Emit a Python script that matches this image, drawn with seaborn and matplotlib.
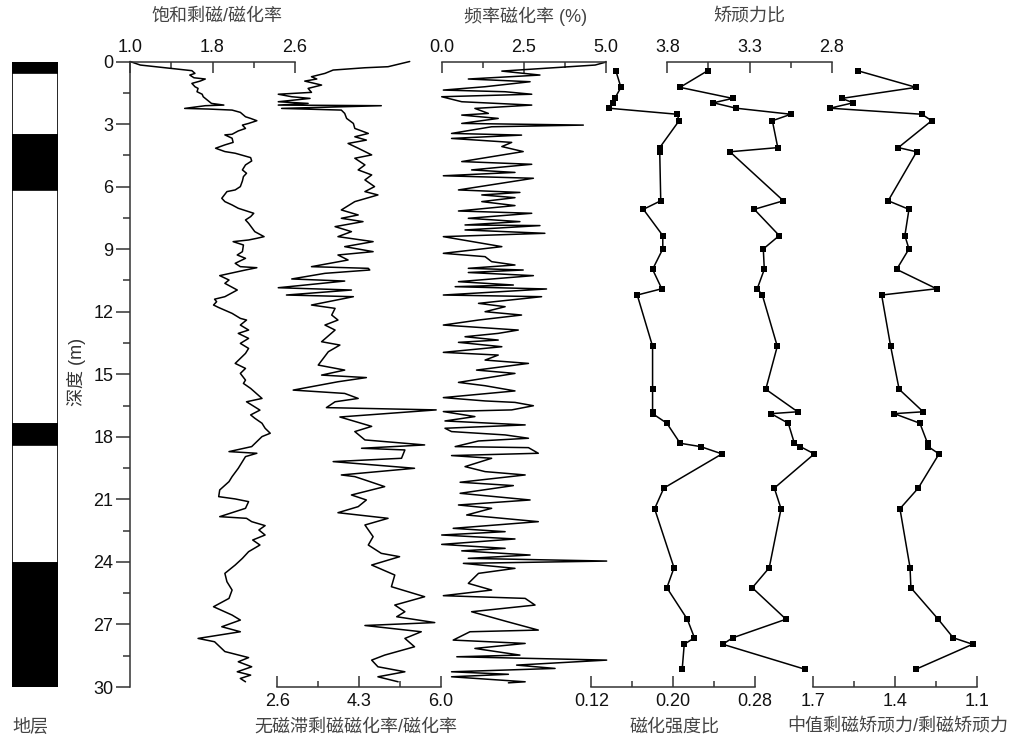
import matplotlib
matplotlib.use("Agg")
import matplotlib.pyplot as plt
import seaborn as sns

sns.set_style("ticks")
plt.rcParams["font.family"] = ["Liberation Sans", "Noto Sans CJK SC"]
plt.rcParams["axes.unicode_minus"] = False

# ---------------- data ----------------
# stratigraphic column (m)
strata_top = [0.0, 0.57, 3.52, 6.16, 17.39, 18.39, 24.05]
strata_bottom = [0.57, 3.52, 6.16, 17.39, 18.39, 24.05, 30.0]
strata_color = ["black", "white", "black", "white", "black", "white", "black"]

# SIRM / chi
sirm_depth = [0.00, 0.17, 0.33, 0.44, 0.57, 0.65, 0.78, 0.84, 0.94, 1.05, 1.21, 1.29, 1.45, 1.57,
              1.69, 1.85, 2.01, 2.09, 2.12, 2.25, 2.28, 2.33, 2.44, 2.65, 2.73, 2.84, 2.97, 3.05,
              3.21, 3.33, 3.49, 3.52, 3.68, 3.88, 4.00, 4.16, 4.32, 4.40, 4.61, 4.77, 4.96, 5.20,
              5.36, 5.52, 5.73, 6.00, 6.16, 6.24, 6.56, 6.72, 6.88, 7.04, 7.20, 7.28, 7.44, 7.60,
              7.76, 8.16, 8.40, 8.48, 8.56, 8.64, 8.80, 9.12, 9.28, 9.44, 9.68, 9.84, 9.89, 10.00,
              10.27, 10.48, 10.64, 10.96, 11.28, 11.40, 11.52, 11.68, 11.80, 12.08, 12.32, 12.40,
              12.64, 12.88, 13.04, 13.28, 13.52, 13.76, 14.00, 14.48, 14.72, 14.96, 15.28, 15.44,
              15.68, 16.16, 16.32, 16.72, 16.95, 17.11, 17.35, 17.59, 17.83, 17.99, 18.23, 18.47,
              18.71, 18.79, 18.95, 19.19, 19.51, 19.91, 20.15, 20.55, 20.87, 20.98, 21.11, 21.43,
              21.83, 21.91, 22.07, 22.26, 22.47, 22.71, 22.95, 23.19, 23.51, 23.83, 24.15, 24.55,
              24.95, 25.35, 25.75, 26.15, 26.55, 26.79, 27.11, 27.35, 27.67, 27.83, 28.30, 28.59,
              28.79, 29.03, 29.27, 29.43, 29.59, 29.75]
sirm_chi = [1.00, 1.10, 1.40, 1.60, 1.63, 1.58, 1.62, 1.73, 1.68, 1.60, 1.63, 1.66, 1.65, 1.70,
            1.71, 1.75, 1.79, 1.91, 1.73, 1.53, 1.76, 1.99, 2.07, 2.12, 2.17, 2.23, 2.15, 2.09,
            2.12, 2.05, 1.99, 1.92, 1.99, 2.00, 1.92, 1.83, 1.92, 2.02, 2.17, 2.18, 2.12, 2.09,
            2.13, 2.10, 2.09, 2.07, 2.02, 1.94, 1.89, 1.92, 1.99, 2.05, 2.15, 2.20, 2.17, 2.12,
            2.15, 2.21, 2.30, 2.23, 2.15, 2.00, 2.10, 2.09, 2.04, 2.12, 2.02, 2.07, 2.23, 2.12,
            1.87, 1.96, 1.92, 2.04, 1.92, 1.82, 1.84, 1.81, 1.86, 1.99, 2.07, 2.13,
            2.07, 2.15, 2.05, 2.15, 2.07, 2.15, 2.12, 2.02, 2.12, 2.07, 2.12, 2.10,
            2.17, 2.28, 2.13, 2.26, 2.17, 2.21, 2.28, 2.31, 2.36, 2.28, 2.23, 2.18,
            1.96, 2.23, 2.12, 2.09, 2.05, 1.99, 1.96, 1.87, 1.86, 2.02, 2.15, 2.12,
            1.87, 2.13, 2.18, 2.31, 2.25, 2.31, 2.19, 2.26, 2.15, 2.09, 2.02, 1.92,
            1.94, 1.99, 1.96, 1.81, 1.99, 2.07, 1.89, 2.07, 1.66, 1.82, 1.92, 2.15,
            2.05, 2.18, 2.04, 2.17, 2.07, 2.12]

# ARM / chi
arm_depth = [0.00, 0.25, 0.30, 0.41, 0.57, 0.73, 0.84, 0.94, 1.13, 1.29, 1.48, 1.57, 1.69, 1.77,
             1.93, 2.01, 2.09, 2.12, 2.25, 2.33, 2.49, 2.73, 2.97, 3.21, 3.45, 3.61, 3.77, 3.93,
             4.16, 4.48, 4.64, 4.96, 5.20, 5.44, 5.68, 6.00, 6.24, 6.40, 6.72, 7.12, 7.36, 7.52,
             7.68, 7.92, 8.16, 8.40, 8.64, 8.88, 9.12, 9.28, 9.52, 9.84, 9.92, 10.00, 10.16,
             10.43, 10.53, 10.85, 10.96, 11.20, 11.28, 11.68, 11.84, 12.16, 12.40, 12.64, 12.88,
             13.44, 13.60, 13.92, 14.56, 14.80, 15.04, 15.16, 15.36, 15.76, 15.92, 16.16, 16.32,
             16.60, 16.71, 17.05, 17.50, 17.75, 18.15, 18.39, 18.55, 18.63, 19.03, 19.19, 19.51,
             19.83, 19.91, 20.07, 20.39, 20.79, 21.03, 21.35, 21.64, 21.91, 22.23, 22.79, 23.19,
             23.59, 23.75, 24.15, 24.63, 25.19, 25.67, 26.07, 26.39, 26.63, 26.91, 27.05, 27.35,
             27.67, 28.07, 28.47, 28.71, 29.03, 29.27, 29.51, 29.75]
arm_chi = [5.35, 4.90, 4.42, 3.76, 3.59, 3.31, 3.42, 3.17, 3.52, 3.24, 3.31, 2.62, 2.90, 3.28,
           2.62, 3.24, 2.62, 4.76, 2.69, 3.93, 4.00, 4.04, 4.18, 4.21, 4.49, 4.21, 4.45, 4.07,
           4.28, 4.56, 4.21, 4.42, 4.28, 4.56, 4.42, 4.62, 4.42, 4.69, 4.21, 3.93, 4.28, 3.93,
           4.38, 3.80, 4.14, 3.86, 4.59, 4.00, 4.59, 3.86, 4.07, 3.31, 4.49, 4.52, 3.59,
           2.90, 4.00, 2.62, 4.14, 2.79, 4.18, 3.31, 3.80, 3.73, 3.86, 3.59, 3.80,
           3.52, 3.90, 3.66, 3.45, 4.00, 3.52, 4.45, 3.86, 2.93, 4.00, 4.28, 3.80,
           3.62, 5.90, 3.90, 4.56, 4.21, 4.42, 5.66, 4.35, 5.25, 5.18, 3.76, 5.45,
           3.93, 4.21, 4.42, 4.83, 4.14, 4.45, 4.28, 3.86, 4.90, 4.42, 4.59, 4.49,
           4.76, 5.14, 4.56, 5.04, 4.97, 5.66, 5.04, 5.25, 5.08, 5.87, 4.42, 5.59,
           5.25, 5.45, 4.83, 4.56, 4.69, 5.25, 4.69, 5.11]

# frequency-dependent susceptibility (%)
fd_depth = [0.00, 0.04, 0.17, 0.46, 0.65, 0.84, 0.97, 1.21, 1.37, 1.45, 1.57, 1.69, 1.93, 2.09,
            2.25, 2.49, 2.57, 2.73, 2.97, 3.05, 3.13, 3.45, 3.53, 3.69, 3.88, 4.08, 4.32, 4.80,
            4.93, 5.20, 5.32, 5.48, 5.60, 6.16, 6.28, 6.40, 6.53, 6.72, 6.91, 7.17, 7.28, 7.52,
            7.68, 7.84, 7.87, 8.08, 8.24, 8.40, 8.88, 9.20, 9.36, 9.60, 9.76, 9.92, 10.00, 10.12,
            10.27, 10.56, 10.72, 10.80, 10.91, 11.20, 11.28, 11.60, 11.76, 12.00, 12.16, 12.40,
            12.64, 12.88, 13.04, 13.20, 13.36, 13.47, 13.68, 13.95, 14.08, 14.32, 14.48, 14.80,
            14.96, 15.39, 15.55, 15.80, 16.12, 16.28, 16.35, 16.51, 16.71, 16.79, 17.03, 17.24,
            17.43, 17.59, 17.75, 17.91, 18.07, 18.20, 18.47, 18.52, 18.79, 18.90, 19.03, 19.43,
            19.67, 19.83, 20.18, 20.34, 20.71, 21.03, 21.27, 21.43, 21.75, 22.07, 22.39, 22.55,
            22.71, 22.90, 23.16, 23.35, 23.47, 23.67, 23.83, 23.96, 24.07, 24.31, 24.55, 25.03,
            25.35, 25.62, 25.75, 26.07, 26.39, 26.86, 27.27, 27.35, 27.75, 27.91, 28.15, 28.47,
            28.55, 28.71, 28.95, 29.11, 29.27, 29.39, 29.51, 29.75, 29.80]
fd_pct = [5.00, 4.97, 4.67, 1.83, 2.99, 0.81, 2.69, 1.32, 0.05, 1.93, 2.74, 0.00, 0.61, 2.74,
          1.01, 1.42, 0.61, 1.72, 0.61, 4.31, 1.52, 0.30, 2.43, 0.30, 2.13, 1.83, 2.48, 0.61,
          2.74, 0.91, 2.23, 0.05, 2.79, 0.51, 2.38, 1.22, 2.23, 1.22, 2.23, 0.51, 2.74, 0.81,
          2.38, 0.71, 2.99, 0.71, 3.14, 0.05, 1.83, 0.05, 1.32, 1.52, 2.23, 0.81, 2.48, 0.81,
          2.79, 0.51, 2.18, 0.41, 3.19, 0.05, 3.04, 1.12, 1.93, 1.32, 2.43, 1.12,
          0.05, 2.33, 1.72, 0.71, 1.72, 0.51, 1.83, 0.05, 1.72, 1.32, 2.64, 1.06,
          2.23, 0.51, 1.32, 2.23, 0.05, 1.32, 2.23, 2.79, 2.13, 0.05, 1.01, 0.10,
          2.54, 0.10, 0.30, 1.93, 2.64, 1.12, 0.41, 2.64, 2.94, 0.30, 1.52, 0.71,
          1.32, 2.54, 0.56, 2.18, 0.56, 2.69, 0.51, 1.52, 0.76, 2.94, 0.35, 1.93,
          0.00, 2.23, 0.00, 1.93, 0.61, 2.69, 0.81, 5.02, 0.66, 2.23, 1.12, 0.81,
          1.52, 0.05, 2.54, 2.84, 0.91, 1.98, 2.94, 0.86, 0.35, 2.54, 1.01, 2.38,
          0.46, 5.02, 2.28, 3.45, 0.30, 2.03, 0.30, 2.54, 2.03]

# discrete samples
sample_depth = [0.44, 1.24, 1.77, 1.98, 2.24, 2.53, 2.84, 4.13, 4.33, 6.68, 7.09, 8.35, 8.99, 9.97,
                10.90, 11.20, 13.66, 15.72, 16.80, 16.89, 17.35, 18.31, 18.47, 18.82, 20.46, 21.45,
                24.28, 25.24, 26.75, 27.64, 27.95, 29.15]
mag_ratio = [0.144, 0.149, 0.143, 0.141, 0.137, 0.204, 0.206, 0.187, 0.187, 0.188, 0.171, 0.190,
             0.190, 0.180, 0.189, 0.165, 0.180, 0.180, 0.180, 0.180, 0.194, 0.207, 0.227, 0.248,
             0.191, 0.182, 0.201, 0.194, 0.214, 0.221, 0.211, 0.209]
coerc_ratio = [3.554, 3.723, 3.402, 3.520, 3.382, 3.048, 3.161, 3.128, 3.419, 3.094, 3.271, 3.119,
               3.216, 3.210, 3.253, 3.222, 3.131, 3.201, 3.007, 3.169, 3.064, 3.027, 2.991, 2.906,
               3.149, 3.108, 3.180, 3.283, 3.078, 3.402, 3.463, 2.962]
bcr_ratio = [1.538, 1.324, 1.596, 1.554, 1.639, 1.303, 1.267, 1.389, 1.322, 1.426, 1.350, 1.365,
             1.350, 1.395, 1.249, 1.450, 1.417, 1.386, 1.298, 1.404, 1.310, 1.282, 1.280, 1.240,
             1.316, 1.383, 1.346, 1.343, 1.243, 1.188, 1.117, 1.325]

# ---------------- layout helpers ----------------
W, H = 1017, 745
TOP, BOT = 61.5, 687.0
AXC = "#333333"
TXT = "#444444"

fig = plt.figure(figsize=(W / 100, H / 100), dpi=100)


def px_axes(x0, x1):
    return fig.add_axes([x0 / W, 1 - BOT / H, (x1 - x0) / W, (BOT - TOP) / H])


def style_panel(ax, xlim, major, minor, labels, side):
    ax.set_xlim(*xlim)
    ax.set_ylim(30, 0)
    ax.patch.set_alpha(0)
    for s in ax.spines.values():
        s.set_visible(False)
    ax.spines[side].set_visible(True)
    ax.spines[side].set_color(AXC)
    ax.spines[side].set_linewidth(1.1)
    ax.xaxis.set_ticks_position(side)
    ax.set_xticks(major)
    ax.set_xticklabels(labels)
    ax.set_xticks(minor, minor=True)
    ax.tick_params(axis="x", which="major", direction="in", length=8, width=1.1,
                   pad=4, labelsize=13, color=AXC, labelcolor="#111111")
    ax.tick_params(axis="x", which="minor", direction="in", length=4.5, width=1.1, color=AXC)
    ax.set_yticks([])
    ax.tick_params(axis="y", which="both", left=False, right=False, labelleft=False)
    ax.set_xlabel("")
    ax.set_ylabel("")


def draw_curve(ax, x, y, markers=False):
    kw = dict(marker="s", markersize=5, markeredgewidth=0) if markers else {}
    sns.lineplot(x=x, y=y, orient="y", sort=False, estimator=None, color="black",
                 linewidth=1.1, ax=ax, **kw)
    for ln in ax.lines:
        ln.set_clip_on(False)


def title(x, y, s):
    fig.text(x / W, 1 - y / H, s, ha="center", va="center", fontsize=13, color=TXT)


# ---------------- stratigraphic column ----------------
ax0 = px_axes(12, 58)
for t, b, c in zip(strata_top, strata_bottom, strata_color):
    ax0.barh(y=(t + b) / 2, width=1, height=b - t, left=0, color=c,
             edgecolor="black", linewidth=1.2)
ax0.set_xlim(0, 1)
ax0.set_ylim(30, 0)
ax0.axis("off")
fig.text(12 / W, 1 - 727 / H, "地层", ha="left", va="center", fontsize=13, color=TXT)

# ---------------- SIRM/chi with depth axis ----------------
ax1 = px_axes(130, 295)
draw_curve(ax1, sirm_chi, sirm_depth)
style_panel(ax1, (1.0, 2.6), [1.0, 1.8, 2.6], [1.4, 2.2], ["1.0", "1.8", "2.6"], "top")
ax1.spines["left"].set_visible(True)
ax1.spines["left"].set_color(AXC)
ax1.spines["left"].set_linewidth(1.1)
ax1.set_yticks(list(range(0, 31, 3)))
ax1.set_yticks([i * 1.5 for i in range(21)], minor=True)
ax1.tick_params(axis="y", which="major", left=True, labelleft=True, direction="out",
                length=10, width=1.1, pad=2, labelsize=13, color=AXC, labelcolor="#111111")
ax1.tick_params(axis="y", which="minor", left=True, direction="out", length=5, width=1.1,
                color=AXC)
fig.text(76 / W, 1 - 372 / H, "深度 (m)", ha="center", va="center", rotation=90,
         fontsize=13, color="#333333")
title(217, 16, "饱和剩磁/磁化率")

# ---------------- ARM/chi ----------------
ax2 = px_axes(277.3, 441)
draw_curve(ax2, arm_chi, arm_depth)
style_panel(ax2, (2.6, 6.0), [2.6, 4.3, 6.0], [3.45, 5.15], ["2.6", "4.3", "6.0"], "bottom")
title(356, 727, "无磁滞剩磁磁化率/磁化率")

# ---------------- chi_fd ----------------
ax3 = px_axes(441.7, 606)
draw_curve(ax3, fd_pct, fd_depth)
style_panel(ax3, (0.0, 5.0), [0.0, 2.5, 5.0], [1.25, 3.75], ["0.0", "2.5", "5.0"], "top")
title(526, 16, "频率磁化率 (%)")

# ---------------- magnetisation ratio ----------------
ax4 = px_axes(591.3, 754.7)
draw_curve(ax4, mag_ratio, sample_depth, markers=True)
style_panel(ax4, (0.12, 0.28), [0.12, 0.20, 0.28], [0.16, 0.24], ["0.12", "0.20", "0.28"], "bottom")
title(675, 727, "磁化强度比")

# ---------------- coercivity ratio ----------------
ax5 = px_axes(667.3, 831.7)
draw_curve(ax5, coerc_ratio, sample_depth, markers=True)
style_panel(ax5, (3.8, 2.8), [3.8, 3.3, 2.8], [3.55, 3.05], ["3.8", "3.3", "2.8"], "top")
title(749, 16, "矫顽力比")

# ---------------- Bcr ratio ----------------
ax6 = px_axes(813.3, 977.3)
draw_curve(ax6, bcr_ratio, sample_depth, markers=True)
style_panel(ax6, (1.7, 1.1), [1.7, 1.4, 1.1], [1.55, 1.25], ["1.7", "1.4", "1.1"], "bottom")
title(898, 727, "中值剩磁矫顽力/剩磁矫顽力")

fig.savefig("out.png", dpi=100, facecolor="white")
